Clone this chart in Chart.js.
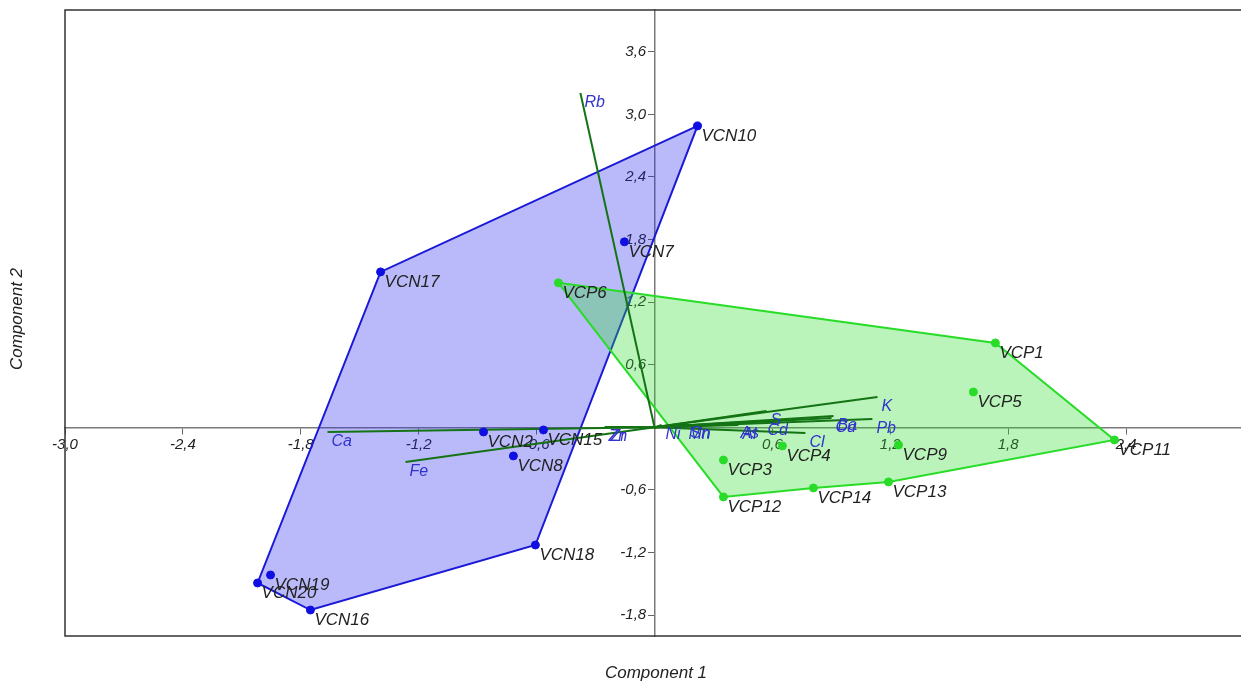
<!DOCTYPE html>
<html>
<head>
<meta charset="utf-8">
<title>PCA biplot</title>
<script src="https://cdn.jsdelivr.net/npm/chart.js@4/dist/chart.umd.min.js"></script>
<style>
  html, body { margin: 0; padding: 0; background: #fff; overflow: hidden; }
  canvas { display: block; }
</style>
</head>
<body>
<canvas id="biplot" width="1241" height="684"></canvas>
<script>
// Scores of the VCN samples (component 1, component 2)
const vcnNames = ['VCN2', 'VCN7', 'VCN8', 'VCN10', 'VCN15', 'VCN16', 'VCN17', 'VCN18', 'VCN19', 'VCN20'];
const vcnX = [-0.870, -0.153, -0.718, 0.219, -0.565, -1.751, -1.394, -0.606, -1.954, -2.020];
const vcnY = [-0.044, 1.778, -0.274, 2.889, -0.025, -1.751, 1.490, -1.128, -1.415, -1.492];
const vcnHull = ['VCN10', 'VCN17', 'VCN20', 'VCN16', 'VCN18'];

// Scores of the VCP samples
const vcpNames = ['VCP1', 'VCP3', 'VCP4', 'VCP5', 'VCP6', 'VCP9', 'VCP11', 'VCP12', 'VCP13', 'VCP14'];
const vcpX = [1.735, 0.351, 0.651, 1.623, -0.489, 1.242, 2.341, 0.351, 1.191, 0.809];
const vcpY = [0.809, -0.313, -0.178, 0.339, 1.385, -0.169, -0.121, -0.667, -0.523, -0.581];
const vcpHull = ['VCP6', 'VCP1', 'VCP11', 'VCP13', 'VCP14', 'VCP12'];

// Element loadings (vector tips)
const elemNames = ['Rb', 'Ca', 'Fe', 'K', 'Pb', 'Ba', 'Cu', 'S', 'Cd', 'Cl', 'As', 'Al', 'Mn', 'Sn', 'Ni', 'Zn', 'Zr'];
const elemX = [-0.377, -1.664, -1.267, 1.135, 1.109, 0.911, 0.901, 0.570, 0.555, 0.768, 0.417, 0.427, 0.153, 0.163, 0.036, -0.254, -0.244];
const elemY = [3.205, -0.044, -0.332, 0.291, 0.081, 0.109, 0.090, 0.157, 0.061, -0.054, 0.033, 0.023, 0.023, 0.033, 0.023, 0.004, 0.004];

// Axis ticks
const xTickValues = [-3.0, -2.4, -1.8, -1.2, -0.6, 0.6, 1.2, 1.8, 2.4];
const yTickValues = [-1.8, -1.2, -0.6, 0.6, 1.2, 1.8, 2.4, 3.0, 3.6];

const FONT = "'Liberation Sans', Arial, sans-serif";

function points(names, xs, ys) {
    return names.map((n, i) => ({ x: xs[i], y: ys[i] }));
}

function hull(order, names, xs, ys) {
    const pts = order.map(n => {
        const i = names.indexOf(n);
        return { x: xs[i], y: ys[i] };
    });
    pts.push(pts[0]);
    return pts;
}

const datasets = [];

// convex hulls, drawn at the bottom
datasets.push({
    data: hull(vcnHull, vcnNames, vcnX, vcnY),
    showLine: true,
    fill: 'shape',
    backgroundColor: 'rgba(40,40,240,0.32)',
    borderColor: 'rgb(25,25,215)',
    borderWidth: 2,
    pointRadius: 0,
    order: 5
});
datasets.push({
    data: hull(vcpHull, vcpNames, vcpX, vcpY),
    showLine: true,
    fill: 'shape',
    backgroundColor: 'rgba(40,220,40,0.32)',
    borderColor: 'rgb(40,220,40)',
    borderWidth: 2,
    pointRadius: 0,
    order: 4
});

// loading vectors from the origin
elemNames.forEach((name, i) => {
    datasets.push({
        data: [{ x: 0, y: 0 }, { x: elemX[i], y: elemY[i] }],
        showLine: true,
        borderColor: 'rgb(20,115,20)',
        borderWidth: 2,
        pointRadius: 0,
        tipLabel: name,
        order: 3
    });
});

// sample points
datasets.push({
    data: points(vcnNames, vcnX, vcnY),
    pointLabels: vcnNames,
    backgroundColor: 'rgb(15,15,225)',
    borderColor: 'rgb(15,15,225)',
    pointRadius: 4,
    order: 1
});
datasets.push({
    data: points(vcpNames, vcpX, vcpY),
    pointLabels: vcpNames,
    backgroundColor: 'rgb(40,220,40)',
    borderColor: 'rgb(40,220,40)',
    pointRadius: 4,
    order: 2
});

// frame, axis titles and text next to the marks
const biplotDecor = {
    id: 'biplotDecor',
    afterDatasetsDraw(chart) {
        const ctx = chart.ctx;
        ctx.save();
        ctx.textAlign = 'left';
        ctx.textBaseline = 'alphabetic';
        chart.data.datasets.forEach((ds, di) => {
            const meta = chart.getDatasetMeta(di);
            if (ds.tipLabel) {
                const tip = meta.data[1];
                ctx.font = 'italic 16px ' + FONT;
                ctx.fillStyle = 'rgb(50,50,205)';
                ctx.fillText(ds.tipLabel, tip.x + 4, tip.y + 14);
            }
            if (ds.pointLabels) {
                ctx.font = 'italic 17px ' + FONT;
                ctx.fillStyle = '#222';
                meta.data.forEach((el, i) => {
                    ctx.fillText(ds.pointLabels[i], el.x + 4, el.y + 15);
                });
            }
        });
        ctx.restore();
    },
    afterDraw(chart) {
        const { ctx, chartArea: a } = chart;
        ctx.save();
        ctx.strokeStyle = '#333';
        ctx.lineWidth = 1.5;
        // the right side of the frame runs past the canvas edge
        ctx.strokeRect(a.left, a.top, a.right - a.left + 4, a.bottom - a.top);
        ctx.fillStyle = '#222';
        ctx.font = 'italic 17px ' + FONT;
        ctx.textAlign = 'center';
        ctx.textBaseline = 'middle';
        ctx.fillText('Component 1', 656, 673);
        ctx.translate(17, (a.top + a.bottom) / 2 - 4);
        ctx.rotate(-Math.PI / 2);
        ctx.fillText('Component 2', 0, 0);
        ctx.restore();
    }
};

const fmt = v => v.toFixed(1).replace('.', ',');
const noPadding = scale => {
    scale.paddingLeft = 0;
    scale.paddingRight = 0;
    scale.paddingTop = 0;
    scale.paddingBottom = 0;
};

new Chart(document.getElementById('biplot'), {
    type: 'scatter',
    data: { datasets: datasets },
    options: {
        responsive: false,
        animation: false,
        events: [],
        layout: {
            autoPadding: false,
            padding: { left: 65, top: 10, right: 0, bottom: 48 }
        },
        plugins: {
            legend: { display: false },
            tooltip: { enabled: false }
        },
        scales: {
            x: {
                type: 'linear',
                min: -3.0,
                max: 2.985,
                position: { y: 0 },
                afterBuildTicks: scale => { scale.ticks = xTickValues.map(v => ({ value: v })); },
                afterFit: noPadding,
                ticks: {
                    callback: v => fmt(v),
                    color: '#222',
                    font: { family: FONT, size: 15, style: 'italic' },
                    padding: 2,
                    maxRotation: 0,
                    autoSkip: false
                },
                grid: { drawOnChartArea: false, drawTicks: true, tickLength: 6, color: '#666' },
                border: { display: true, color: '#7a7a7a', width: 1.5 }
            },
            y: {
                type: 'linear',
                min: -2.0,
                max: 4.0,
                position: { x: 0 },
                afterBuildTicks: scale => { scale.ticks = yTickValues.map(v => ({ value: v })); },
                afterFit: noPadding,
                ticks: {
                    // two trailing spaces keep the label clear of the tick mark
                    callback: v => fmt(v) + '  ',
                    color: '#222',
                    font: { family: FONT, size: 15, style: 'italic' },
                    padding: 1,
                    autoSkip: false
                },
                grid: { drawOnChartArea: false, drawTicks: true, tickLength: 6, color: '#666' },
                border: { display: true, color: '#7a7a7a', width: 1.5 }
            }
        }
    },
    plugins: [biplotDecor]
});
</script>
</body>
</html>
